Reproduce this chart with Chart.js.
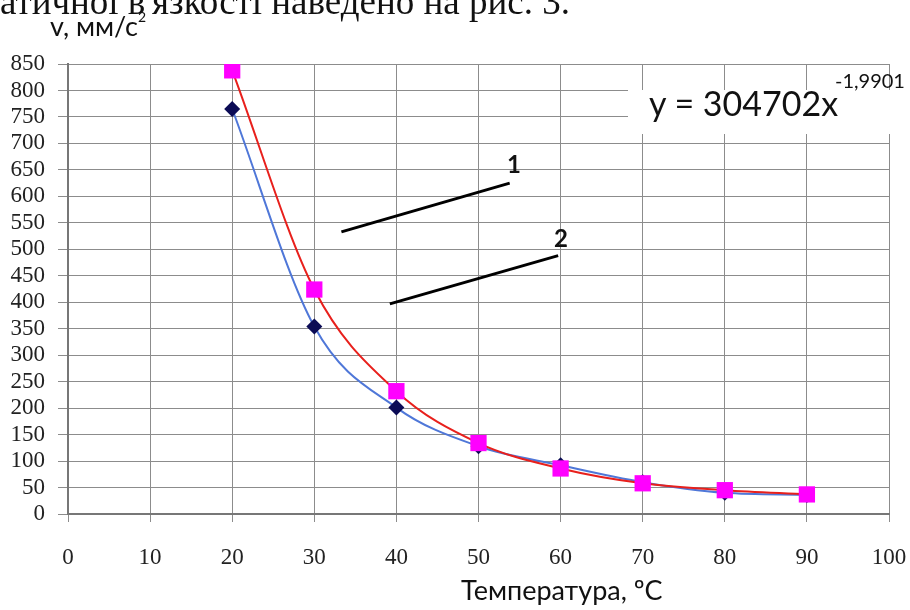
<!DOCTYPE html>
<html>
<head>
<meta charset="utf-8">
<script src="https://cdn.jsdelivr.net/npm/chart.js@4.4.1/dist/chart.umd.min.js"></script>
<style>
  html, body { margin: 0; padding: 0; background: #fff; }
  #wrap { position: relative; width: 910px; height: 610px; overflow: hidden; }
  #chart { position: absolute; left: 0; top: 0; }
  .txt { position: absolute; white-space: nowrap; color: #111; line-height: 1; }
  .serif { font-family: "Liberation Serif", "DejaVu Serif", serif; }
  .sans { font-family: Lato, "Open Sans", "Noto Sans", sans-serif; }
</style>
</head>
<body>
<div id="wrap">
  <canvas id="chart" width="910" height="610"></canvas>

  <div class="txt serif" style="left:0; top:-17px; font-size:37px;">атичної в'язкості наведено на рис. 3.</div>

  <div class="txt sans" style="left:50px; top:10px; font-size:27px;">v, мм/с<span style="font-size:14px; vertical-align:14px;">2</span></div>

  <div class="txt sans" style="left:628px; top:90px; width:282px; height:44px; background:#fff;"></div>
  <div class="txt sans" style="left:649px; top:86px; font-size:34px;">y = 304702x</div>
  <div class="txt sans" style="left:835px; top:70px; font-size:20px;">-1,9901</div>

  <div class="txt sans" style="left:507px; top:152px; font-size:24px; font-weight:bold;">1</div>
  <div class="txt sans" style="left:554px; top:226px; font-size:24px; font-weight:bold;">2</div>

  <div class="txt sans" style="left:461px; top:576px; font-size:27px;">Температура, ºС</div>
</div>

<script>
// Temperature, °C
const temps = [20, 30, 40, 50, 60, 70, 80, 90];

// Kinematic viscosity, mm²/s
const viscosity1 = [765, 354, 201, 128, 92, 60, 40, 36];   // curve 1 (diamonds)
const viscosity2 = [838, 424, 232, 134, 86, 58, 45, 37];   // curve 2 (squares)

// Leader lines pointing to the curve numbers
const leader1 = [[33.3, 533], [53.8, 625]];
const leader2 = [[39.2, 397], [59.7, 488]];

const toPoints = (xs, ys) => xs.map((x, i) => ({ x: x, y: ys[i] }));
const pairPoints = (pairs) => pairs.map(p => ({ x: p[0], y: p[1] }));

const gridColor = '#8c8c8c';
const tickFont = { family: '"Liberation Serif", "DejaVu Serif", serif', size: 23 };

const ctx = document.getElementById('chart').getContext('2d');

new Chart(ctx, {
  type: 'line',
  data: {
    datasets: [
      {
        label: '2',
        data: toPoints(temps, viscosity2),
        borderColor: '#e8201c',
        backgroundColor: '#ff00ff',
        borderWidth: 2,
        pointStyle: 'rect',
        pointRadius: 11.5,
        pointBorderWidth: 0,
        pointBackgroundColor: '#ff00ff',
        cubicInterpolationMode: 'monotone',
        order: 1
      },
      {
        label: '1',
        data: toPoints(temps, viscosity1),
        borderColor: '#4f77d8',
        backgroundColor: '#0b0b55',
        borderWidth: 2,
        pointStyle: 'rectRot',
        pointRadius: 8,
        pointBorderWidth: 0,
        pointBackgroundColor: '#0b0b55',
        cubicInterpolationMode: 'monotone',
        order: 2
      },
      {
        label: 'leader1',
        data: pairPoints(leader1),
        borderColor: '#000',
        borderWidth: 3,
        pointRadius: 0,
        tension: 0,
        order: 3
      },
      {
        label: 'leader2',
        data: pairPoints(leader2),
        borderColor: '#000',
        borderWidth: 3,
        pointRadius: 0,
        tension: 0,
        order: 3
      }
    ]
  },
  options: {
    responsive: false,
    animation: false,
    layout: {
      padding: { left: 0, top: 64, right: 21, bottom: 0 }
    },
    plugins: {
      legend: { display: false },
      tooltip: { enabled: false }
    },
    scales: {
      x: {
        type: 'linear',
        min: 0,
        max: 100,
        afterFit: (scale) => {
          scale.height = 96;
          scale.paddingLeft = 0;
          scale.paddingRight = 0;
        },
        ticks: {
          stepSize: 10,
          autoSkip: false,
          maxRotation: 0,
          padding: 22,
          color: '#222',
          font: tickFont
        },
        grid: {
          color: gridColor,
          lineWidth: 1,
          tickLength: 8
        },
        border: {
          color: '#777',
          width: 2
        }
      },
      y: {
        min: 0,
        max: 850,
        afterFit: (scale) => {
          scale.width = 68;
          scale.paddingTop = 0;
          scale.paddingBottom = 0;
        },
        ticks: {
          stepSize: 50,
          autoSkip: false,
          padding: 13,
          color: '#222',
          font: tickFont
        },
        grid: {
          color: gridColor,
          lineWidth: 1,
          tickLength: 10
        },
        border: {
          color: '#777',
          width: 2
        }
      }
    }
  }
});
</script>
</body>
</html>
